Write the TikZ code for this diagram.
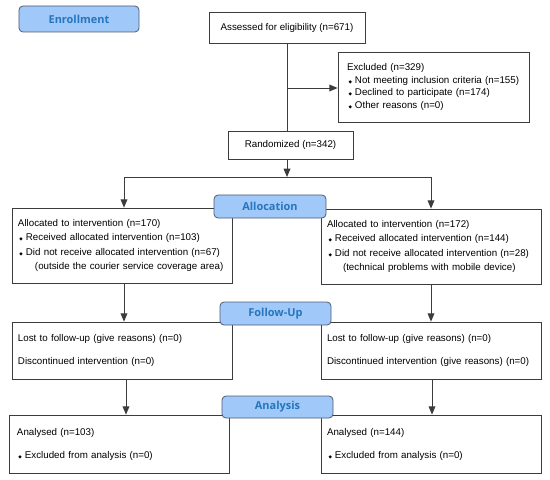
\documentclass[tikz,border=0pt]{standalone}
\usepackage{fontspec}
\setmainfont{Liberation Sans}
\newfontfamily\labfont{Open Sans}
\newfontfamily\symfont{DejaVu Sans}
\usetikzlibrary{arrows}
\definecolor{labfill}{RGB}{160,200,248}
\definecolor{labtext}{RGB}{38,118,190}
\definecolor{labline}{RGB}{80,92,112}
\definecolor{boxline}{RGB}{60,60,60}
\newcommand{\bul}{\hspace*{1.5bp}{\symfont\fontsize{4.5}{5}\selectfont ◆}\hspace{3bp}}

\begin{document}
\begin{tikzpicture}[x = 1bp, y = -1bp]
\tikzstyle{StageStyle}=[
shape = rectangle,
rounded corners = 4bp,
draw = labline,
fill = labfill,
line width = 0.8bp,
text = labtext,
font = \labfont\bfseries\fontsize{11}{13}\selectfont]
\tikzstyle{BoxStyle}=[
shape = rectangle,
draw = boxline,
fill = white,
line width = 0.8bp,
inner xsep = 6bp,
inner ysep = 0pt,
align = left,
font = \fontsize{9.8}{14.5}\selectfont]
\tikzstyle{Link}=[draw = boxline, line width = 0.9bp]
\tikzstyle{Arrow}=[Link, -triangle 45]
\useasboundingbox (0,0) rectangle (550,480);
\node[BoxStyle, align = center, minimum width = 156bp, minimum height = 31bp] (assess) at (287,27.5) {Assessed for eligibility (n=671)};
\node[BoxStyle, inner xsep = 9bp, text width = 173bp, minimum height = 70bp, font = \fontsize{9.8}{12.7}\selectfont] (excl) at (433.5,87) {Excluded (n=329)\\ \bul Not meeting inclusion criteria (n=155)\\ \bul Declined to participate (n=174)\\ \bul Other reasons (n=0)};
\node[BoxStyle, align = center, minimum width = 125bp, minimum height = 28bp] (rand) at (290.5,145) {Randomized (n=342)};
\node[BoxStyle, text width = 208bp, minimum height = 75bp] (allocL) at (122,245.5) {Allocated to intervention (n=170)\\ \bul Received allocated intervention (n=103)\\ \bul Did not receive allocated intervention (n=67)\\ \hspace*{17bp}(outside the courier service coverage area)};
\node[BoxStyle, text width = 208bp, minimum height = 75bp] (allocR) at (431,246.5) {Allocated to intervention (n=172)\\ \bul Received allocated intervention (n=144)\\ \bul Did not receive allocated intervention (n=28)\\ \hspace*{16bp}(technical problems with mobile device)};
\node[BoxStyle, text width = 208bp, minimum height = 57bp] (fupL) at (122,350.5) {Lost to follow-up (give reasons) (n=0)\\[8.5bp] Discontinued intervention (n=0)};
\node[BoxStyle, text width = 208bp, minimum height = 57bp] (fupR) at (431,350.5) {Lost to follow-up (give reasons) (n=0)\\[8.5bp] Discontinued intervention (give reasons) (n=0)};
\node[BoxStyle, inner xsep = 8bp, text width = 204bp, minimum height = 58bp] (anaL) at (119,444) {Analysed (n=103)\\[8.5bp] \bul Excluded from analysis (n=0)};
\node[BoxStyle, text width = 208bp, minimum height = 58bp] (anaR) at (431,444) {Analysed (n=144)\\[8.5bp] \bul Excluded from analysis (n=0)};
\coordinate (branch) at (287,88);
\coordinate (split) at (287,177);
\coordinate (splitL) at (124,177);
\coordinate (splitR) at (431,177);
\draw[Link] (assess.south) -- (assess.south |- rand.north);
\draw[Arrow] (branch) -- (branch -| excl.west);
\draw[Arrow] (split |- rand.south) -- (split);
\draw[Link] (splitL) -- (splitR);
\draw[Arrow] (splitL) -- (splitL |- allocL.north);
\draw[Arrow] (splitR) -- (splitR |- allocR.north);
\draw[Arrow] (splitL |- allocL.south) -- (splitL |- fupL.north);
\draw[Arrow] (splitR |- allocR.south) -- (splitR |- fupR.north);
\draw[Arrow] ([xshift = 4bp]fupL.south) -- ([xshift = 4bp]fupL.south |- anaL.north);
\draw[Arrow] ([xshift = 1bp]fupR.south) -- ([xshift = 1bp]fupR.south |- anaR.north);
\node[StageStyle, minimum width = 120bp, minimum height = 26bp] (enroll) at (79,19) {Enrollment};
\node[StageStyle, minimum width = 112bp, minimum height = 23bp] (alloc) at (270,206.5) {Allocation};
\node[StageStyle, minimum width = 111bp, minimum height = 23bp] (follow) at (275.5,313.5) {Follow-Up};
\node[StageStyle, minimum width = 111bp, minimum height = 22bp] (anal) at (277.5,407) {Analysis};
\end{tikzpicture}
\end{document}
